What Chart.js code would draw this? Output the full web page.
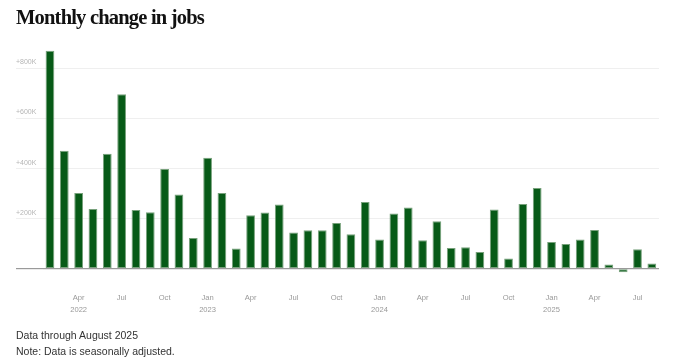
<!DOCTYPE html>
<html>
<head>
<meta charset="utf-8">
<script src="https://cdn.jsdelivr.net/npm/chart.js@4.4.1/dist/chart.umd.min.js"></script>
<style>
  html, body { margin: 0; padding: 0; background: #fff; }
  body { width: 675px; height: 357px; position: relative; overflow: hidden; }
  #wrap { position: absolute; left: 0; top: 0; width: 675px; height: 357px; }
  .title { position: absolute; left: 16px; top: 6.8px; font-family: "Liberation Serif", serif; font-weight: bold; font-size: 20.5px; line-height: 20.5px; letter-spacing: -0.8px; color: #111; white-space: nowrap; }
  .note { position: absolute; left: 16px; font-family: "Liberation Sans", Arial, sans-serif; font-size: 10.5px; line-height: 10.5px; color: #333; white-space: nowrap; }
</style>
</head>
<body>
<div id="wrap"><canvas id="c"></canvas></div>
<div class="title">Monthly change in jobs</div>
<div class="note" style="top:330.4px">Data through August 2025</div>
<div class="note" style="top:346.1px">Note: Data is seasonally adjusted.</div>
<script>
const categories = [
  'Feb 2022','Mar 2022','Apr 2022','May 2022','Jun 2022','Jul 2022','Aug 2022','Sep 2022','Oct 2022','Nov 2022','Dec 2022',
  'Jan 2023','Feb 2023','Mar 2023','Apr 2023','May 2023','Jun 2023','Jul 2023','Aug 2023','Sep 2023','Oct 2023','Nov 2023','Dec 2023',
  'Jan 2024','Feb 2024','Mar 2024','Apr 2024','May 2024','Jun 2024','Jul 2024','Aug 2024','Sep 2024','Oct 2024','Nov 2024','Dec 2024',
  'Jan 2025','Feb 2025','Mar 2025','Apr 2025','May 2025','Jun 2025','Jul 2025','Aug 2025'
];
const jobsChange = [
  871000, 471000, 303000, 239000, 459000, 697000, 235000, 226000, 398000, 297000, 123000,
  443000, 303000, 81000, 214000, 225000, 257000, 145000, 154000, 154000, 183000, 138000, 267000,
  117000, 221000, 245000, 114000, 190000, 83000, 86000, 67000, 237000, 41000, 259000, 322000,
  107000, 99000, 117000, 155000, 17000, -14000, 78000, 21000
];
const yTicks = [0, 200000, 400000, 600000, 800000];
const xTickMonths = ['Jan', 'Apr', 'Jul', 'Oct'];

function xTickLabel(i) {
  const [m, y] = categories[i].split(' ');
  if (!xTickMonths.includes(m)) return '';
  const firstShown = categories.findIndex(c => xTickMonths.includes(c.split(' ')[0]));
  if (m === 'Jan' || i === firstShown) return [m, y];
  return m;
}

new Chart(document.getElementById('c'), {
  type: 'bar',
  data: {
    labels: categories,
    datasets: [{
      data: jobsChange,
      backgroundColor: '#075a17',
      borderColor: 'rgba(95,145,100,0.85)',
      borderWidth: 1,
      borderSkipped: false,
      categoryPercentage: 1,
      barPercentage: 0.61
    }]
  },
  options: {
    responsive: true,
    maintainAspectRatio: false,
    animation: false,
    layout: { padding: { left: 16, right: 16, top: 48.5, bottom: 27.5 } },
    plugins: { legend: { display: false }, tooltip: { enabled: false }, title: { display: false } },
    scales: {
      x: {
        grid: { display: false, drawTicks: false },
        border: { display: false },
        ticks: {
          autoSkip: false, maxRotation: 0, minRotation: 0,
          padding: 14,
          color: '#999',
          font: { family: '"Liberation Sans", Arial, sans-serif', size: 7.6, lineHeight: 1.5 },
          callback: (v, i) => xTickLabel(i)
        },
        afterFit: (s) => { s.paddingLeft = 0; s.paddingRight = 0; }
      },
      y: {
        min: -40000,
        max: 880000,
        border: { display: false },
        grid: {
          color: (ctx) => (ctx.tick && ctx.tick.value === 0) ? '#9a9a9a' : '#efefef',
          tickColor: (ctx) => (ctx.tick && ctx.tick.value === 0) ? '#9a9a9a' : '#efefef',
          lineWidth: (ctx) => (ctx.tick && ctx.tick.value === 0) ? 1.2 : 1,
          drawTicks: true,
          tickLength: 26.8
        },
        afterBuildTicks: (s) => { s.ticks = yTicks.map(v => ({ value: v })); },
        afterFit: (s) => { s.width = 26.8; s.paddingTop = 0; s.paddingBottom = 0; },
        ticks: {
          crossAlign: 'far',
          labelOffset: -6,
          padding: 0,
          color: '#b5b5b5',
          font: { family: '"Liberation Sans", Arial, sans-serif', size: 7 },
          callback: (v) => v === 0 ? '' : '+' + (v / 1000) + 'K'
        }
      }
    }
  }
});
</script>
</body>
</html>
